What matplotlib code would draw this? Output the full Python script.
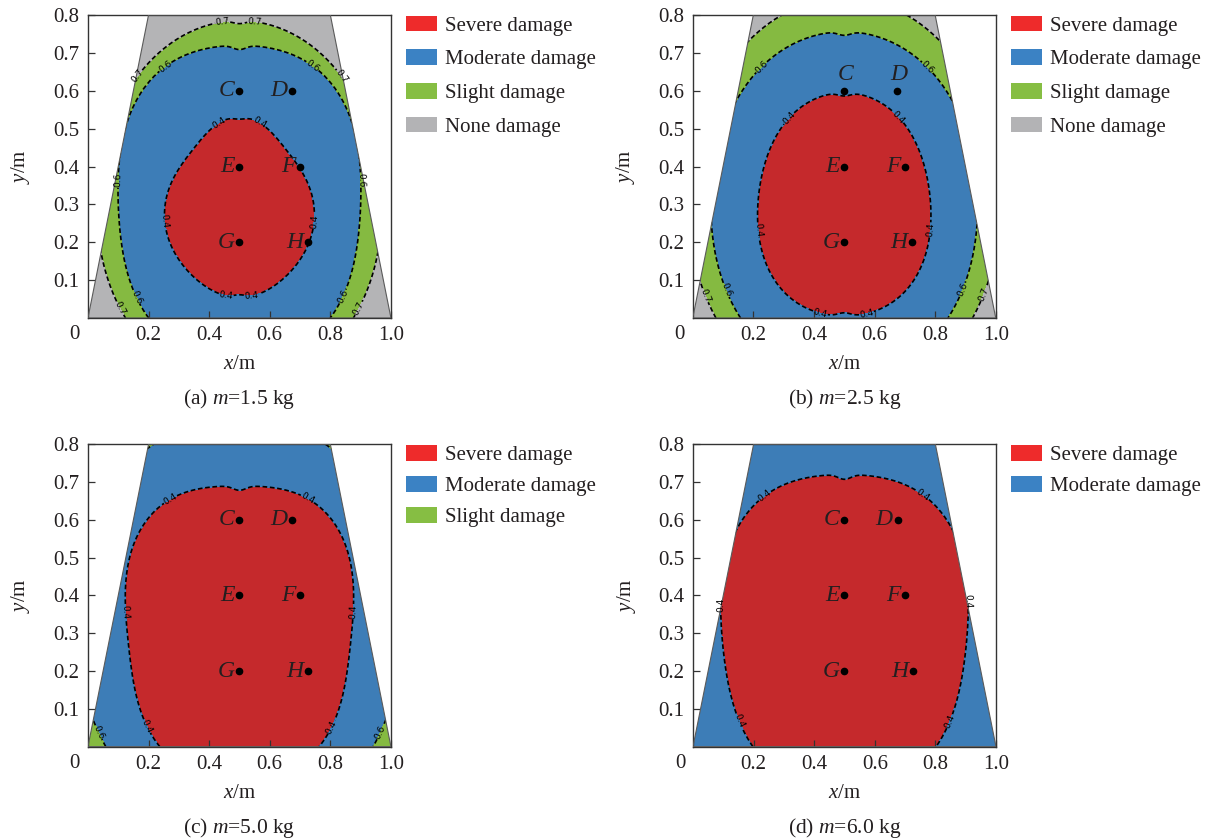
import numpy as np
import matplotlib
matplotlib.use('Agg')
import matplotlib.pyplot as plt
from matplotlib.patches import Polygon, Patch

plt.rcParams['font.family'] = 'Liberation Serif'
plt.rcParams['mathtext.fontset'] = 'custom'
plt.rcParams['mathtext.rm'] = 'Liberation Serif'
plt.rcParams['mathtext.it'] = 'Liberation Serif:italic'
plt.rcParams['lines.dashed_pattern'] = [2.8, 1.6]

TEXT = '#231f20'

# charge mass of each case
masses = [1.5, 2.5, 5.0, 6.0]
tags = ['(a)', '(b)', '(c)', '(d)']

# damage thresholds and the regions they separate
levels = [0.4, 0.6, 0.7]
damage_names = ['Severe damage', 'Moderate damage', 'Slight damage', 'None damage']
legend_counts = [4, 4, 3, 2]

# reach of each threshold from the centre (0.5, 0.3), from straight up (0 deg) to straight down (180 deg)
angles = [0, 45, 90, 135, 180]
reach_04 = [[0.232, 0.211, 0.245, 0.245, 0.246],
            [0.295, 0.290, 0.285, 0.305, 0.295],
            [0.390, 0.428, 0.370, 0.397, 0.390],
            [0.420, 0.452, 0.405, 0.426, 0.420]]
reach_06 = [[0.420, 0.440, 0.400, 0.424, 0.410],
            [0.456, 0.452, 0.440, 0.456, 0.455],
            [0.570, 0.575, 0.545, 0.533, 0.530],
            [0.620, 0.630, 0.620, 0.610, 0.610]]
reach_07 = [[0.485, 0.477, 0.470, 0.482, 0.480],
            [0.545, 0.530, 0.515, 0.520, 0.520],
            [0.640, 0.645, 0.615, 0.600, 0.600],
            [0.690, 0.700, 0.690, 0.680, 0.680]]

# measuring points
point_names = ['C', 'D', 'E', 'F', 'G', 'H']
point_x = [0.5, 0.675, 0.5, 0.7, 0.5, 0.725]
point_y = [0.6, 0.6, 0.4, 0.4, 0.2, 0.2]

# cross-section outline
section_x = [0.0, 1.0, 0.8, 0.2]
section_y = [0.0, 0.0, 0.8, 0.8]

fill_colors = ['#c5292c', '#3d7db7', '#85ba41', '#b4b4b6']
legend_colors = ['#ee2b2b', '#3b82c4', '#86be43', '#b3b3b5']

# where the inline contour labels sit
label_spots = [
    [(.425, .523), (.573, .523), (.245, .255), (.75, .255), (.455, .054), (.54, .054),
     (.265, .655), (.733, .655), (.111, .364), (.884, .364), (.155, .054), (.837, .058),
     (.444, .785), (.551, .785), (.163, .639), (.837, .639), (.106, .026), (.892, .026)],
    [(.318, .527), (.678, .53), (.211, .232), (.791, .232), (.42, .01), (.574, .01),
     (.22, .668), (.783, .668), (.11, .074), (.892, .074),
     (.044, .061), (.954, .065)],
    [(.276, .649), (.72, .649), (.139, .358), (.859, .358), (.194, .054), (.799, .054),
     (.029, .036), (.969, .036)],
    [(.238, .662), (.755, .662), (.102, .376), (.894, .384), (.146, .067), (.848, .067)],
]
labels_above = [[], ['C', 'D'], [], []]

axes_pos = [[0.0725, 0.6205, 0.2498, 0.3616],
            [0.5711, 0.6205, 0.2498, 0.3616],
            [0.0725, 0.1090, 0.2498, 0.3608],
            [0.5713, 0.1090, 0.2498, 0.3608]]
legend_gap = [0.65, 0.65, 0.53, 0.53]

xs = np.linspace(0, 1, 601)
ys = np.linspace(0, 0.8, 481)
X, Y = np.meshgrid(xs, ys)
dx, dy = X - 0.5, Y - 0.3
r = np.hypot(dx, dy)
phi = np.arctan2(np.abs(dx), dy)
orders = np.arange(len(angles))
basis = np.cos(np.outer(np.radians(angles), orders))
phi_basis = np.cos(np.multiply.outer(phi, orders))


def reach(samples):
    coef = np.linalg.solve(basis, samples)
    return phi_basis @ coef


def damage_field(i):
    r1, r2, r3 = reach(reach_04[i]), reach(reach_06[i]), reach(reach_07[i])
    v = np.where(r < r1, 0.4 * r / r1,
        np.where(r < r2, 0.4 + 0.2 * (r - r1) / (r2 - r1),
        np.where(r < r3, 0.6 + 0.1 * (r - r2) / (r3 - r2),
                 0.7 + 0.1 * (r - r3) / (r3 - r2))))
    # slight dip along the symmetry line
    return v + 0.012 * np.exp(-(dx / 0.03) ** 2)


fig = plt.figure(figsize=(12.13, 8.38), dpi=100)

for i in range(4):
    ax = fig.add_axes(axes_pos[i])
    v = damage_field(i)

    clip = Polygon(list(zip(section_x, section_y)), closed=True, transform=ax.transData)
    cf = ax.contourf(X, Y, v, levels=[-10] + levels + [10], colors=fill_colors)
    cf.set_clip_path(clip)
    cs = ax.contour(X, Y, v, levels=levels, colors='k', linewidths=1.2, linestyles='dashed')
    cs.set_clip_path(clip)
    txts = ax.clabel(cs, manual=label_spots[i], inline=True, inline_spacing=2,
                     fontsize=6.5, fmt='%.1f')
    for t in txts:
        t.set_family('DejaVu Sans')
    ax.add_patch(Polygon(list(zip(section_x, section_y)), closed=True, facecolor='none',
                         edgecolor='#5a5a5a', linewidth=0.8, zorder=3))

    ax.plot(point_x, point_y, 'o', color='k', markersize=4.5, linestyle='none', zorder=5)
    for name, px, py in zip(point_names, point_x, point_y):
        if name in labels_above[i]:
            ax.text(px + 0.004, py + 0.043, name, fontsize=17, style='italic', color=TEXT,
                    ha='center', va='center', zorder=6)
        else:
            ax.text(px - 0.016, py, name, fontsize=17, style='italic', color=TEXT,
                    ha='right', va='center', zorder=6)

    ax.set_xlim(0, 1)
    ax.set_ylim(0, 0.8)
    ax.set_xticks([0.2, 0.4, 0.6, 0.8, 1.0])
    ax.set_xticklabels(['0.2', '0.4', '0.6', '0.8', '1.0'])
    ax.set_yticks([0.1, 0.2, 0.3, 0.4, 0.5, 0.6, 0.7, 0.8])
    ax.set_yticklabels(['0.1', '0.2', '0.3', '0.4', '0.5', '0.6', '0.7', '0.8'])
    ax.tick_params(direction='in', length=5, width=0.9, labelsize=15, colors='#333333',
                   labelcolor=TEXT, pad=6)
    for sp in ax.spines.values():
        sp.set_color('#333333')
        sp.set_linewidth(1.0)
    ax.text(-0.043, -0.056, '0', transform=ax.transAxes, fontsize=15, color=TEXT,
            ha='center', va='center')

    ax.set_xlabel('$x$/m', fontsize=15, color=TEXT)
    ax.xaxis.set_label_coords(0.5, -0.155)
    ax.xaxis.label.set_va('center')
    ax.set_ylabel('$y$/m', fontsize=15, color=TEXT)
    ax.yaxis.set_label_coords(-0.221, 0.5)
    ax.yaxis.label.set_va('center')
    ax.text(0.5, -0.268, f'{tags[i]} $m$={masses[i]:.1f} kg', transform=ax.transAxes,
            fontsize=15.5, color=TEXT, ha='center', va='center')

    n = legend_counts[i]
    handles = [Patch(facecolor=legend_colors[k], edgecolor='none', label=damage_names[k])
               for k in range(n)]
    leg = ax.legend(handles=handles, loc='upper left', bbox_to_anchor=(1.0495, 0.997),
                    frameon=False, fontsize=15, handlelength=1.49, handleheight=0.77,
                    handletextpad=0.38, labelspacing=legend_gap[i], borderaxespad=0,
                    borderpad=0)
    for t in leg.get_texts():
        t.set_color(TEXT)

fig.savefig('out.png', dpi=100)
